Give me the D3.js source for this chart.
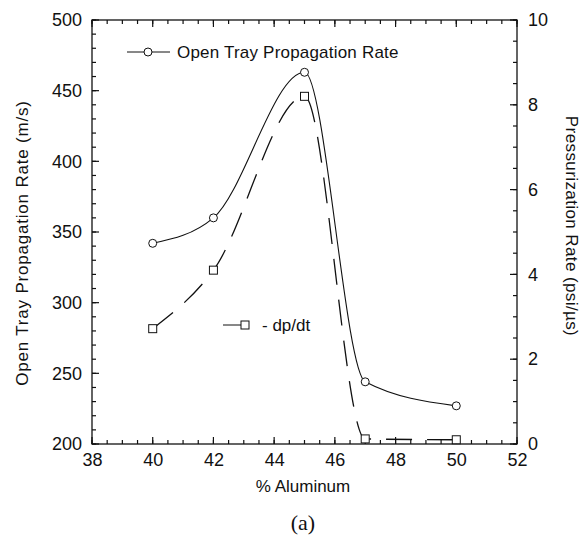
<!DOCTYPE html>
<html>
<head>
<meta charset="utf-8">
<script src="https://cdn.jsdelivr.net/npm/d3@7"></script>
<style>
  body { margin: 0; background: #fff; }
  svg text { font-family: "Liberation Sans", Arial, Helvetica, sans-serif; fill: #111; }
</style>
</head>
<body>
<script>
const w = 588;
const h = 542;
const pLeft = 92, pRight = 517, pTop = 20, pBottom = 444;

// data
const aluminum = [40, 42, 45, 47, 50];
const trayRate = [342, 360, 463, 244, 227];      // m/s, left axis
const dpdt = [2.72, 4.1, 8.2, 0.12, 0.1];        // psi/us, right axis
const xTicks = [38, 40, 42, 44, 46, 48, 50, 52];
const yLeftTicks = [200, 250, 300, 350, 400, 450, 500];
const yRightTicks = [0, 2, 4, 6, 8, 10];

const svg = d3.select("body")
    .append("svg")
    .attr("width", w)
    .attr("height", h);

const xScale = d3.scaleLinear().domain([38, 52]).range([pLeft, pRight]);
const yScale = d3.scaleLinear().domain([200, 500]).range([pBottom, pTop]);
const y2Scale = d3.scaleLinear().domain([0, 10]).range([pBottom, pTop]);

// frame
svg.append("rect")
    .attr("x", pLeft).attr("y", pTop)
    .attr("width", pRight - pLeft).attr("height", pBottom - pTop)
    .attr("fill", "none")
    .attr("stroke", "#111")
    .attr("stroke-width", 1.3);

// tick marks, all pointing into the plot
const xMinor = d3.range(38, 52.01, 0.5);
const yMinor = d3.range(200, 500.1, 10);
const y2Minor = d3.range(0, 10.01, 0.5);

function xMarks(vals, len) {
    [[pBottom, -1], [pTop, 1]].forEach(([y0, dir]) => {
        svg.append("g").selectAll("line")
            .data(vals).enter().append("line")
            .attr("x1", d => xScale(d)).attr("x2", d => xScale(d))
            .attr("y1", y0).attr("y2", y0 + dir * len)
            .attr("stroke", "#111").attr("stroke-width", 1.2);
    });
}
function yMarks(vals, scale, x0, dir, len) {
    svg.append("g").selectAll("line")
        .data(vals).enter().append("line")
        .attr("x1", x0).attr("x2", x0 + dir * len)
        .attr("y1", d => scale(d)).attr("y2", d => scale(d))
        .attr("stroke", "#111").attr("stroke-width", 1.2);
}
xMarks(xMinor, 4);
xMarks(xTicks, 7);
yMarks(yMinor, yScale, pLeft, 1, 4);
yMarks(yLeftTicks, yScale, pLeft, 1, 7);
yMarks(y2Minor, y2Scale, pRight, -1, 4);
yMarks(yRightTicks, y2Scale, pRight, -1, 7);

// tick labels from d3 axes (no lines)
function tidy(g) {
    g.select(".domain").remove();
    g.selectAll(".tick line").remove();
    g.selectAll("text").attr("font-size", 18);
}
svg.append("g")
    .attr("transform", "translate(0," + pBottom + ")")
    .call(d3.axisBottom(xScale).tickValues(xTicks).tickFormat(d3.format("d")).tickSize(0).tickPadding(9))
    .call(tidy);
svg.append("g")
    .attr("transform", "translate(" + pLeft + ",0)")
    .call(d3.axisLeft(yScale).tickValues(yLeftTicks).tickFormat(d3.format("d")).tickSize(0).tickPadding(10))
    .call(tidy);
svg.append("g")
    .attr("transform", "translate(" + pRight + ",0)")
    .call(d3.axisRight(y2Scale).tickValues(yRightTicks).tickFormat(d3.format("d")).tickSize(0).tickPadding(11))
    .call(tidy);

// lines
const trayLine = d3.line()
    .x((d, i) => xScale(aluminum[i]))
    .y(d => yScale(d))
    .curve(d3.curveMonotoneX);

const dpLine = d3.line()
    .x((d, i) => xScale(aluminum[i]))
    .y(d => y2Scale(d))
    .curve(d3.curveMonotoneX);

svg.append("path")
    .datum(trayRate)
    .attr("d", trayLine)
    .attr("fill", "none")
    .attr("stroke", "#111")
    .attr("stroke-width", 1.1);

svg.append("path")
    .datum(dpdt)
    .attr("d", dpLine)
    .attr("fill", "none")
    .attr("stroke", "#111")
    .attr("stroke-width", 1.3)
    .attr("stroke-dasharray", "26,15");

// markers
svg.selectAll(".circ")
    .data(trayRate)
    .enter()
    .append("circle")
    .attr("class", "circ")
    .attr("cx", (d, i) => xScale(aluminum[i]))
    .attr("cy", d => yScale(d))
    .attr("r", 4)
    .attr("fill", "#fff")
    .attr("stroke", "#111");

svg.selectAll(".sq")
    .data(dpdt)
    .enter()
    .append("rect")
    .attr("class", "sq")
    .attr("x", (d, i) => xScale(aluminum[i]) - 4)
    .attr("y", d => y2Scale(d) - 4)
    .attr("width", 8)
    .attr("height", 8)
    .attr("fill", "#fff")
    .attr("stroke", "#111");

// legend
const leg1 = svg.append("g").attr("transform", "translate(127,52)");
leg1.append("line").attr("x1", 0).attr("x2", 43).attr("stroke", "#111");
leg1.append("circle").attr("cx", 21).attr("r", 4).attr("fill", "#fff").attr("stroke", "#111");
leg1.append("text").attr("x", 50).attr("dy", "0.35em").attr("font-size", 17)
    .style("letter-spacing", "0.2px")
    .text("Open Tray Propagation Rate");

const leg2 = svg.append("g").attr("transform", "translate(223,325)");
leg2.append("line").attr("x1", 0).attr("x2", 20).attr("stroke", "#111");
leg2.append("rect").attr("x", 18).attr("y", -4).attr("width", 8).attr("height", 8)
    .attr("fill", "#fff").attr("stroke", "#111");
leg2.append("text").attr("x", 39).attr("dy", "0.35em").attr("font-size", 17)
    .text("- dp/dt");

// axis titles
svg.append("text")
    .attr("transform", "translate(22,243) rotate(-90)")
    .attr("text-anchor", "middle")
    .attr("dy", "0.35em")
    .attr("font-size", 17)
    .style("letter-spacing", "0.8px")
    .text("Open Tray Propagation Rate (m/s)");

svg.append("text")
    .attr("transform", "translate(572,226) rotate(90)")
    .attr("text-anchor", "middle")
    .attr("dy", "0.35em")
    .attr("font-size", 17)
    .style("letter-spacing", "0.4px")
    .text("Pressurization Rate (psi/\u00b5s)");

svg.append("text")
    .attr("x", 303).attr("y", 486)
    .attr("text-anchor", "middle")
    .attr("dy", "0.35em")
    .attr("font-size", 17)
    .text("% Aluminum");

svg.append("text")
    .attr("x", 303).attr("y", 522)
    .attr("text-anchor", "middle")
    .attr("dy", "0.35em")
    .attr("font-size", 22)
    .style("font-family", "'Liberation Serif', 'Times New Roman', serif")
    .text("(a)");
</script>
</body>
</html>
